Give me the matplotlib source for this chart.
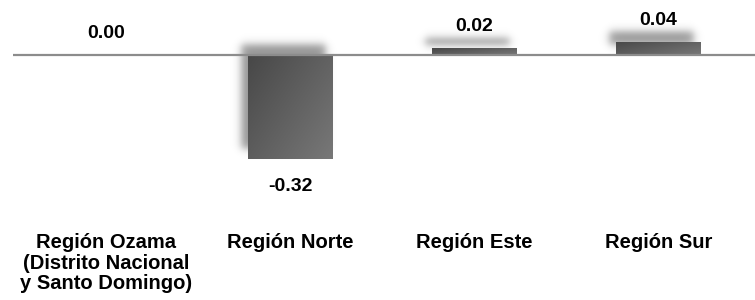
import numpy as np
import matplotlib.pyplot as plt
from matplotlib.patches import Rectangle

categories = ['Región Ozama\n(Distrito Nacional\ny Santo Domingo)', 'Región Norte',
              'Región Este', 'Región Sur']
values = [0.00, -0.32, 0.02, 0.04]
value_labels = ['0.00', '-0.32', '0.02', '0.04']

plt.rcParams['font.family'] = ['Liberation Sans', 'DejaVu Sans']

W, H = 755, 300
fig = plt.figure(figsize=(W / 100, H / 100), dpi=100)
ax = fig.add_axes([14.5 / W, 0.0, 736 / W, 1.0])
ax.set_xlim(-0.5, 3.5)
ax.set_ylim(-0.7538, 0.1692)
ax.axis('off')

px_x = 4.0 / 736      # data units per pixel, x
px_y = (0.1692 + 0.7538) / 300  # data units per pixel, y

bar_w = 0.457
# diagonal gradient: darker top-left, lighter bottom-right
gx, gy = np.meshgrid(np.linspace(0, 1, 80), np.linspace(0, 1, 80))
shade = 0.28 + 0.19 * (0.55 * gx + 0.45 * gy)
grad = np.dstack([shade, shade, shade])


def sig(t):
    return 1.0 / (1.0 + np.exp(-t))


for i, v in enumerate(values):
    x0 = i - bar_w / 2
    lo, hi = min(0, v), max(0, v)
    if hi - lo > 0:
        # blurred shadow, shifted up and left
        dx, dy, m, s = -7 * px_x, 10 * px_y, 16, 2.5
        sx0, sx1 = x0 + dx, x0 + bar_w + dx
        sy0, sy1 = lo + dy, hi + dy
        ex = (sx0 - m * px_x, sx1 + m * px_x, sy0 - m * px_y, sy1 + m * px_y)
        nx = int((ex[1] - ex[0]) / px_x)
        ny = int((ex[3] - ex[2]) / px_y)
        xs = np.linspace(ex[0], ex[1], nx)
        ys = np.linspace(ex[3], ex[2], ny)
        X, Y = np.meshgrid(xs, ys)
        a = (sig((X - sx0) / (s * px_x)) * sig((sx1 - X) / (s * px_x)) *
             sig((Y - sy0) / (s * px_y)) * sig((sy1 - Y) / (s * px_y)))
        sh = np.zeros((ny, nx, 4))
        sh[..., 3] = 0.42 * a
        ax.imshow(sh, extent=ex, aspect='auto', zorder=1, interpolation='bilinear')

        rect = Rectangle((x0, lo), bar_w, hi - lo, facecolor='none', lw=0, zorder=2)
        ax.add_patch(rect)
        im = ax.imshow(grad, extent=(x0, x0 + bar_w, lo, hi), origin='upper',
                       aspect='auto', zorder=2, interpolation='bilinear')
        im.set_clip_path(rect)
    if v < 0:
        ax.annotate(value_labels[i], (i, v), xytext=(0, -14), textcoords='offset points',
                    ha='center', va='top', fontsize=14, fontweight='bold')
    else:
        ax.annotate(value_labels[i], (i, v), xytext=(0, 9.5), textcoords='offset points',
                    ha='center', va='bottom', fontsize=14, fontweight='bold')

ax.plot([-0.5 - 1.5 * px_x, 3.5 + 5 * px_x], [0, 0], color='#8c8c8c', lw=1.6,
        zorder=3, clip_on=False, solid_capstyle='butt')

for i, c in enumerate(categories):
    ax.text(i, -0.548, c, ha='center', va='top', fontsize=14.5, fontweight='bold',
            linespacing=1.1)

fig.savefig('out.png', dpi=100)
